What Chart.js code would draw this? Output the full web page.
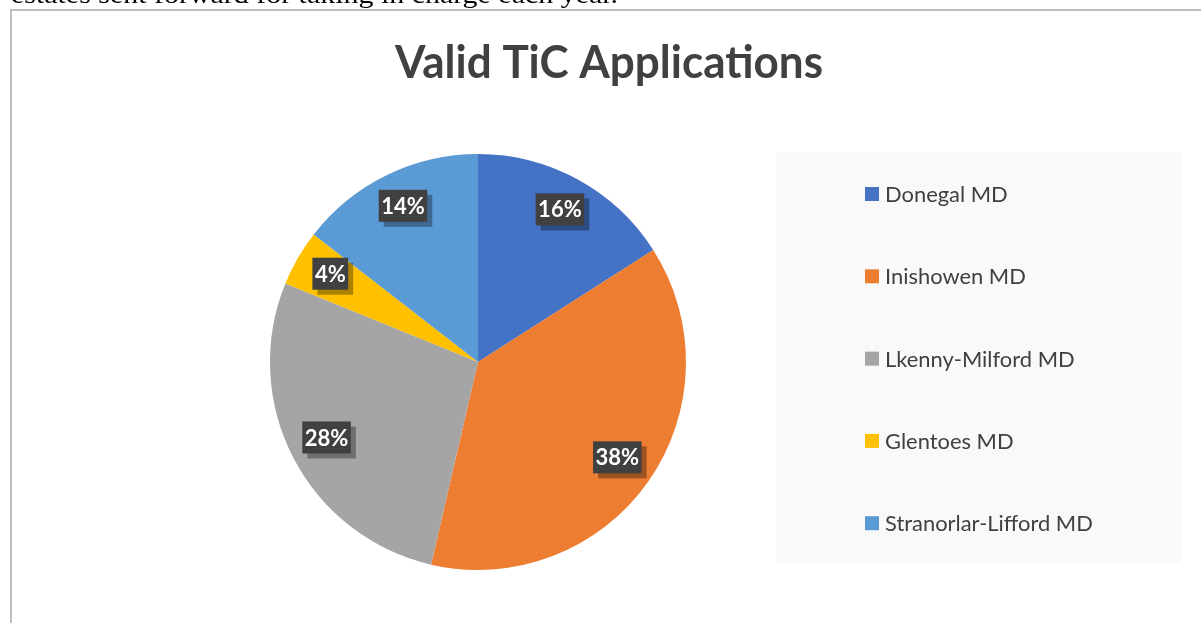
<!DOCTYPE html>
<html>
<head>
<meta charset="utf-8">
<script src="https://cdn.jsdelivr.net/npm/chart.js@4"></script>
<style>
  html, body { margin: 0; padding: 0; background: #ffffff; }
  #wrap { position: relative; width: 1201px; height: 623px; overflow: hidden; }
  canvas { display: block; }
</style>
</head>
<body>
<div id="wrap"><canvas id="c" width="1201" height="623"></canvas></div>
<script>
// ---- data ----
const chartTitle = "Valid TiC Applications";
const pageText = "estates sent forward for taking in charge each year.";
const categories = ["Donegal MD", "Inishowen MD", "Lkenny-Milford MD", "Glentoes MD", "Stranorlar-Lifford MD"];
// estimated application counts (shown as 16%, 38%, 28%, 4%, 14%)
const applications = [11, 26, 19, 3, 10];
const sliceColors = ["#4472C4", "#ED7D31", "#A5A5A5", "#FFC000", "#5B9BD5"];

// ---- helpers ----
function fitText(ctx, text, x, y, targetWidth) {
  const w = ctx.measureText(text).width;
  ctx.save();
  ctx.translate(x, y);
  ctx.scale(targetWidth / w, 1);
  ctx.fillText(text, 0, 0);
  ctx.restore();
}

function makePattern(ctx) {
  const pc = document.createElement('canvas');
  pc.width = 4; pc.height = 4;
  const p = pc.getContext('2d');
  p.fillStyle = '#3f3f3f'; p.fillRect(0, 0, 4, 4);
  p.fillStyle = '#4a4a4a'; p.fillRect(0, 0, 1, 1); p.fillRect(2, 2, 1, 1);
  return ctx.createPattern(pc, 'repeat');
}

const pagePlugin = {
  id: 'page',
  beforeDraw(chart) {
    const ctx = chart.ctx;
    ctx.save();
    ctx.fillStyle = '#ffffff';
    ctx.fillRect(0, 0, chart.width, chart.height);
    // document text cut off at the top
    ctx.fillStyle = '#000000';
    ctx.font = '25px "Liberation Serif", "Times New Roman", serif';
    ctx.textBaseline = 'alphabetic';
    ctx.textAlign = 'left';
    fitText(ctx, pageText, 11, 3, 607);
    // chart frame (left and top edges)
    ctx.fillStyle = '#bfbfbf';
    ctx.fillRect(10, 9, 1201, 2);
    ctx.fillRect(10, 9, 2, 623);
    // title
    ctx.fillStyle = '#404040';
    ctx.font = 'bold 45px Lato, "Open Sans", sans-serif';
    fitText(ctx, chartTitle, 395, 78, 428);
    // legend panel
    ctx.fillStyle = '#f9f9f9';
    ctx.fillRect(776, 152, 406, 411);
    ctx.restore();
  },
  afterDraw(chart) {
    const ctx = chart.ctx;
    const labels = chart.data.labels;
    const colors = chart.data.datasets[0].backgroundColor;
    ctx.save();
    ctx.font = '21px Lato, "Open Sans", sans-serif';
    const ref = ctx.measureText(labels[4]).width;
    const size = 21 * 208 / ref;
    ctx.font = size.toFixed(2) + 'px Lato, "Open Sans", sans-serif';
    ctx.textBaseline = 'middle';
    ctx.textAlign = 'left';
    const y0 = 194, step = 82.3;
    labels.forEach((lab, i) => {
      const cy = y0 + i * step;
      ctx.fillStyle = colors[i];
      ctx.fillRect(865, cy - 7, 14, 14);
      ctx.fillStyle = '#404040';
      ctx.fillText(lab, 885, cy + 1);
    });
    ctx.restore();
  }
};

const labelPlugin = {
  id: 'sliceLabels',
  afterDatasetsDraw(chart) {
    const ctx = chart.ctx;
    const meta = chart.getDatasetMeta(0);
    const data = chart.data.datasets[0].data;
    const total = data.reduce((a, b) => a + b, 0);
    const pat = makePattern(ctx);
    ctx.save();
    ctx.font = 'bold 22px Lato, "Open Sans", sans-serif';
    ctx.textAlign = 'center';
    ctx.textBaseline = 'middle';
    meta.data.forEach((el, i) => {
      const mid = (el.startAngle + el.endAngle) / 2;
      const r = el.outerRadius * 0.82;
      const px = el.x + Math.cos(mid) * r;
      const py = el.y + Math.sin(mid) * r - 3;
      const txt = Math.round(data[i] / total * 100) + '%';
      const tw = ctx.measureText(txt).width;
      const bw = tw + 5, bh = 32;
      const bx = px - bw / 2, by = py - bh / 2;
      ctx.fillStyle = 'rgba(0,0,0,0.33)';
      ctx.fillRect(bx + 5, by + 5, bw, bh);
      ctx.fillStyle = pat;
      ctx.fillRect(bx, by, bw, bh);
      ctx.fillStyle = '#ffffff';
      ctx.fillText(txt, px, py + 1);
    });
    ctx.restore();
  }
};

new Chart(document.getElementById('c'), {
  type: 'pie',
  data: {
    labels: categories,
    datasets: [{
      data: applications,
      backgroundColor: sliceColors,
      borderWidth: 0
    }]
  },
  options: {
    responsive: false,
    devicePixelRatio: 1,
    animation: false,
    layout: { padding: { left: 270, right: 515, top: 154, bottom: 53 } },
    plugins: {
      legend: { display: false },
      title: { display: false },
      tooltip: { enabled: false }
    }
  },
  plugins: [pagePlugin, labelPlugin]
});
</script>
</body>
</html>
